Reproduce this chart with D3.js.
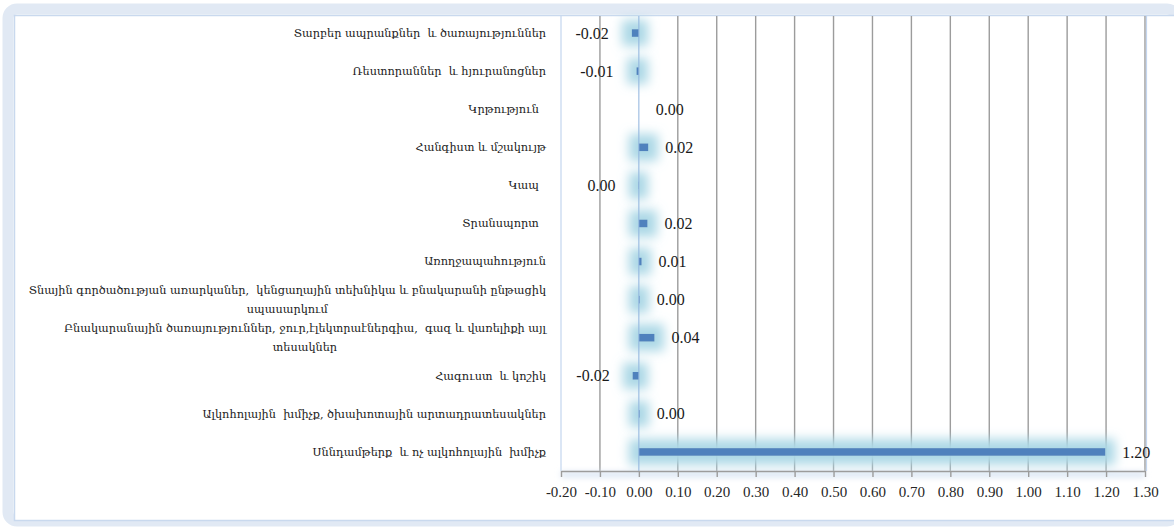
<!DOCTYPE html>
<html>
<head>
<meta charset="utf-8">
<script src="https://cdn.jsdelivr.net/npm/d3@7"></script>
<style>
  body { margin: 0; background: #ffffff; }
  svg { display: block; }
</style>
</head>
<body>
<svg id="chart" width="1174" height="527"></svg>
<script>
// Categories, top to bottom (each entry = lines of the label)
const categories = [
    ["Տարբեր ապրանքներ  և ծառայություններ"],
    ["Ռեստորաններ  և հյուրանոցներ"],
    ["Կրթություն\u00a0\u00a0"],
    ["Հանգիստ և մշակույթ"],
    ["Կապ\u00a0\u00a0"],
    ["Տրանսպորտ\u00a0\u00a0"],
    ["Առողջապահություն"],
    ["Տնային գործածության առարկաներ,  կենցաղային տեխնիկա և բնակարանի ընթացիկ", "սպասարկում"],
    ["Բնակարանային ծառայություններ, ջուր,էլեկտրաէներգիա,  գազ և վառելիքի այլ", "տեսակներ"],
    ["Հագուստ  և կոշիկ"],
    ["Ալկոհոլային  խմիչք, ծխախոտային արտադրատեսակներ"],
    ["Սննդամթերք  և ոչ ալկոհոլային  խմիչք"]
];

const values = [-0.018, -0.006, 0, 0.024, -0.001, 0.022, 0.007, 0.002, 0.04, -0.016, 0.002, 1.198];

const xTicks = [-0.2, -0.1, 0, 0.1, 0.2, 0.3, 0.4, 0.5, 0.6, 0.7, 0.8, 0.9, 1.0, 1.1, 1.2, 1.3];

const svg = d3.select('#chart');
const W = 1174, H = 527;
const plot = {left: 561, right: 1145, top: 14, bottom: 471};

// labels show two decimals, no "-0.00"
function fmt(v) {
    const s = v.toFixed(2);
    return s === '-0.00' ? '0.00' : s;
}

const defs = svg.append('defs');

// glow behind the bars (alpha boosted first so hairline bars still glow)
const glow = defs.append('filter')
    .attr('id', 'glow')
    .attr('filterUnits', 'userSpaceOnUse')
    .attr('x', 0).attr('y', 0).attr('width', W).attr('height', H);
glow.append('feComponentTransfer').attr('in', 'SourceAlpha').attr('result', 'solid')
    .append('feFuncA').attr('type', 'linear').attr('slope', 20);
glow.append('feMorphology').attr('in', 'solid').attr('operator', 'dilate').attr('radius', 9).attr('result', 'fat');
glow.append('feGaussianBlur').attr('in', 'fat').attr('stdDeviation', 5.5).attr('result', 'blur');
glow.append('feFlood').attr('flood-color', '#acd8e6').attr('flood-opacity', 1);
glow.append('feComposite').attr('in2', 'blur').attr('operator', 'in').attr('result', 'halo');
const merge = glow.append('feMerge');
merge.append('feMergeNode').attr('in', 'halo');
merge.append('feMergeNode').attr('in', 'SourceGraphic');

const axisShadow = defs.append('filter').attr('id', 'soft')
    .attr('x', '-5%').attr('y', '-200%').attr('width', '110%').attr('height', '500%');
axisShadow.append('feGaussianBlur').attr('stdDeviation', 3);

// outer frame
svg.append('rect')
    .attr('x', 8).attr('y', 9).attr('width', 1168).attr('height', 512)
    .attr('rx', 9)
    .attr('fill', 'none')
    .attr('stroke', '#e1e9f4')
    .attr('stroke-width', 11);
svg.append('rect')
    .attr('x', 14.5).attr('y', 15.5).attr('width', 1170).attr('height', 505)
    .attr('fill', '#ffffff')
    .attr('stroke', '#c9d9ee')
    .attr('stroke-width', 1.5);

// scales
const x = d3.scaleLinear()
    .domain([xTicks[0], xTicks[xTicks.length - 1]])
    .range([plot.left, plot.right]);

const y = d3.scaleBand()
    .domain(d3.range(categories.length))
    .range([plot.top, plot.bottom]);

const chart = svg.append('g');

// vertical gridlines
chart.selectAll('.grid')
    .data(xTicks.filter(t => t !== xTicks[0] && t !== 0))
    .enter().append('line')
        .attr('class', 'grid')
        .attr('x1', d => x(d)).attr('x2', d => x(d))
        .attr('y1', 16).attr('y2', plot.bottom)
        .attr('stroke', '#9c9c9c')
        .attr('stroke-width', 1.4);

// plot border, left and right
chart.append('line')
    .attr('x1', plot.left).attr('x2', plot.left)
    .attr('y1', 16).attr('y2', plot.bottom)
    .attr('stroke', '#c3d5ee').attr('stroke-width', 1.2);
chart.append('line')
    .attr('x1', plot.right + 1.5).attr('x2', plot.right + 1.5)
    .attr('y1', 16).attr('y2', plot.bottom)
    .attr('stroke', '#c3d5ee').attr('stroke-width', 1.2);

// soft shadow under the x axis
chart.append('rect')
    .attr('x', plot.left).attr('y', plot.bottom + 1)
    .attr('width', plot.right - plot.left).attr('height', 5)
    .attr('fill', '#d5e2f2')
    .attr('filter', 'url(#soft)');

// bars
chart.selectAll('.bar')
    .data(values)
    .enter().append('rect')
        .attr('class', 'bar')
        .attr('x', d => Math.min(x(0), x(d)))
        .attr('y', (d, i) => y(i) + y.bandwidth() / 2 - 3.8)
        .attr('width', d => Math.abs(x(d) - x(0)))
        .attr('height', 7.6)
        .attr('fill', '#4f81bd')
        .attr('filter', 'url(#glow)');

// zero line (category axis)
chart.append('line')
    .attr('x1', x(0)).attr('x2', x(0))
    .attr('y1', 16).attr('y2', plot.bottom)
    .attr('stroke', '#8fb2dd').attr('stroke-width', 1);

// x axis
const xAxis = chart.append('g')
    .attr('transform', `translate(0,${plot.bottom})`)
    .call(d3.axisBottom(x)
        .tickValues(xTicks)
        .tickFormat(d => d.toFixed(2))
        .tickSize(6)
        .tickSizeOuter(0));
xAxis.select('.domain').attr('stroke', '#9c9c9c').attr('stroke-width', 1.4);
xAxis.selectAll('.tick line').attr('stroke', '#9c9c9c').attr('stroke-width', 1.4);
xAxis.selectAll('.tick text')
    .attr('y', 15)
    .attr('fill', '#262626')
    .style('font-family', '"Liberation Serif", serif')
    .style('font-size', '15px');

// data labels
chart.selectAll('.value')
    .data(values)
    .enter().append('text')
        .attr('class', 'value')
        .attr('x', d => d < 0 ? x(d) - 23 : x(d) + 17)
        .attr('y', (d, i) => y(i) + y.bandwidth() / 2)
        .attr('dy', '0.35em')
        .attr('text-anchor', d => d < 0 ? 'end' : 'start')
        .attr('fill', '#1a1a1a')
        .style('font-family', '"Liberation Serif", serif')
        .style('font-size', '16px')
        .text(d => fmt(d));

// category labels, right aligned block, lines centred inside it
const labelRight = 546;
const lineGap = 19;
categories.forEach((lines, i) => {
    const g = chart.append('g');
    const texts = g.selectAll('text')
        .data(lines)
        .enter().append('text')
            .attr('y', (d, j) => y(i) + y.bandwidth() / 2 + (j - (lines.length - 1) / 2) * lineGap)
            .attr('dy', '0.35em')
            .attr('fill', '#1a1a1a')
            .style('font-family', '"DejaVu Serif", serif')
            .style('font-size', '11.3px')
            .style('white-space', 'pre')
            .text(d => d);
    const widths = texts.nodes().map(n => n.getComputedTextLength());
    const maxW = d3.max(widths);
    texts.attr('x', labelRight - maxW / 2).attr('text-anchor', 'middle');
});
</script>
</body>
</html>
